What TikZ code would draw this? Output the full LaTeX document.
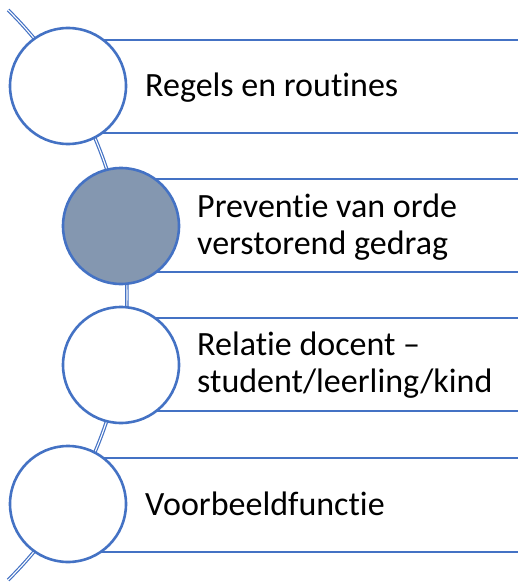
\documentclass[tikz,border=0pt]{standalone}
\usepackage{fontspec}
\setmainfont{Carlito}[Ligatures={CommonOff}]
\definecolor{accent}{HTML}{4472C4}
\definecolor{fillgray}{HTML}{8497B0}
\begin{document}
\begin{tikzpicture}[x=1pt,y=-1pt,
  bar/.style={draw=accent, line width=2pt},
  bead/.style={circle, draw=accent, line width=2.6pt, fill=white, minimum size=116pt, inner sep=0pt},
  label/.style={anchor=base west, align=left, inner sep=0pt, font=\fontsize{34}{37}\selectfont},
  spine/.style={draw=accent, double=white, line width=1.2pt, double distance=1.1pt}]
\useasboundingbox (0,0) rectangle (518,583);
\coordinate (arcc) at (-274,295);
\draw[spine] ([shift={(45.3:401pt)}]arcc) arc[start angle=45.3, end angle=-45.3, radius=401pt];
% bars
\draw[bar] (68,40) -- (530,40);
\draw[bar] (68,133) -- (530,133);
\draw[bar] (121,179) -- (530,179);
\draw[bar] (121,272) -- (530,272);
\draw[bar] (121,318) -- (530,318);
\draw[bar] (121,411) -- (530,411);
\draw[bar] (68,458) -- (530,458);
\draw[bar] (68,552) -- (530,552);
% circles
\node[bead] (c1) at (68,86) {};
\node[bead, fill=fillgray] (c2) at (121,226) {};
\node[bead] (c3) at (121,365) {};
\node[bead] (c4) at (68,504) {};
% labels
\node[label] (t1) at (145,97) {Regels en routines};
\node[label] (t2) at (197,254) {Preventie van orde\\verstorend gedrag};
\node[label] (t3) at (197,392) {Relatie docent –\\student/leerling/kind};
\node[label] (t4) at (145,515) {Voorbeeldfunctie};
\end{tikzpicture}
\end{document}
